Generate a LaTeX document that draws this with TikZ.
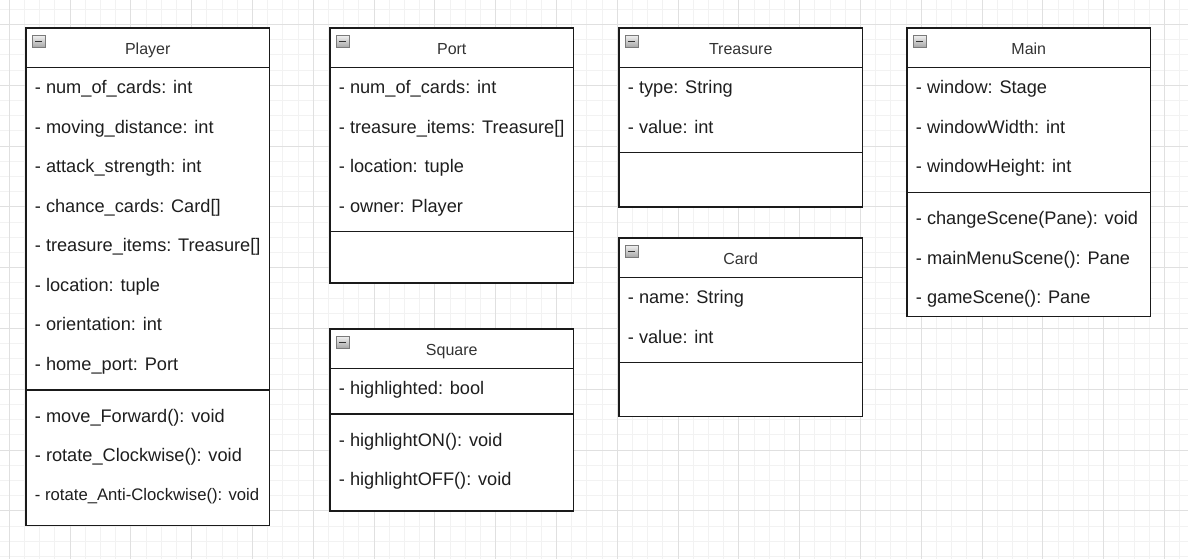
\documentclass[tikz,border=0pt]{standalone}
\usepackage{fontspec}
\setmainfont{Liberation Sans}
\usetikzlibrary{shadings}
\definecolor{gridminor}{HTML}{F2F2F2}
\definecolor{gridmajor}{HTML}{E0E0E0}
\definecolor{boxline}{HTML}{1A1A1A}
\definecolor{txt}{HTML}{1E1E1E}
\definecolor{hdrtxt}{HTML}{333333}
\definecolor{icontop}{HTML}{EDEDED}
\definecolor{iconbot}{HTML}{A6A6A6}
\definecolor{iconedge}{HTML}{7A7A7A}
\tikzset{
  minorgrid/.style={draw=gridminor, line width=1pt},
  majorgrid/.style={draw=gridmajor, line width=1pt},
  classbox/.style={draw=boxline, line width=1.5pt, fill=white, rectangle,
    inner sep=0pt, outer sep=0pt, anchor=north west, minimum width=243.5pt},
  sep/.style={draw=boxline, line width=1.5pt},
  attr/.style={anchor=base west, inner sep=0pt, text=txt, font=\fontsize{18.2}{21}\selectfont},
  attrsmall/.style={attr, font=\fontsize{16.7}{19}\selectfont},
  hdr/.style={anchor=base, inner sep=0pt, text=hdrtxt, font=\fontsize{16}{19}\selectfont},
  iconbox/.style={rectangle, inner sep=0pt, outer sep=0pt, minimum width=12.5pt,
    minimum height=11.5pt, top color=icontop, bottom color=iconbot, draw=iconedge, line width=0.8pt},
  iconminus/.style={draw=hdrtxt, line width=1.6pt}
}
% #1 id, #2 left, #3 top, #4 height, #5 title, #6 divider offset from top
\newcommand\classframe[6]{%
  \node[classbox, minimum height=#4pt] (#1) at (#2,#3) {};
  \draw[sep] ([yshift=-39.5pt]#1.north west) -- ([yshift=-39.5pt]#1.north east);
  \draw[sep] ([yshift=-#6pt]#1.north west) -- ([yshift=-#6pt]#1.north east);
  \node[iconbox] (#1icon) at (#2+12.8,#3+13.6) {};
  \draw[iconminus] ([xshift=2.6pt]#1icon.west) -- ([xshift=-2.6pt]#1icon.east);
  \node[hdr] (#1title) at (#2+121.75,#3+26.5) {#5};
}
\begin{document}
\begin{tikzpicture}[x=1pt,y=-1pt]
\useasboundingbox (0,0) rectangle (1188,559);
\fill[white] (0,0) rectangle (1188,559);
% grid
\foreach \k in {0,...,77} { \draw[minorgrid] ({9.3+15.2*\k},0) -- ({9.3+15.2*\k},559); }
\foreach \k in {0,...,36} { \draw[minorgrid] (0,{9.3+15.2*\k}) -- (1188,{9.3+15.2*\k}); }
\foreach \k in {0,...,19} { \draw[majorgrid] ({9.3+60.8*\k},0) -- ({9.3+60.8*\k},559); }
\foreach \k in {0,...,8} { \draw[majorgrid] (0,{24.5+60.8*\k}) -- (1188,{24.5+60.8*\k}); }

% Player
\classframe{P}{26}{28}{497.5}{Player}{361.8}
\node[attr] (P1) at (34.7,93.85) {- num\_of\_cards: int};
\node[attr] (P2) at (34.7,133.35) {- moving\_distance: int};
\node[attr] (P3) at (34.7,172.85) {- attack\_strength: int};
\node[attr] (P4) at (34.7,212.35) {- chance\_cards: Card[]};
\node[attr] (P5) at (34.7,251.85) {- treasure\_items: Treasure[]};
\node[attr] (P6) at (34.7,291.35) {- location: tuple};
\node[attr] (P7) at (34.7,330.85) {- orientation: int};
\node[attr] (P8) at (34.7,370.35) {- home\_port: Port};
\node[attr] (P9) at (34.7,422.2) {- move\_Forward(): void};
\node[attr] (P10) at (34.7,461.7) {- rotate\_Clockwise(): void};
\node[attrsmall] (P11) at (34.7,500.6) {- rotate\_Anti-Clockwise(): void};

% Port
\classframe{O}{330}{28}{255}{Port}{203.5}
\node[attr] (O1) at (338.7,93.85) {- num\_of\_cards: int};
\node[attr] (O2) at (338.7,133.35) {- treasure\_items: Treasure[]};
\node[attr] (O3) at (338.7,172.85) {- location: tuple};
\node[attr] (O4) at (338.7,212.35) {- owner: Player};

% Square
\classframe{S}{330}{329}{182}{Square}{85}
\node[attr] (S1) at (338.7,394.85) {- highlighted: bool};
\node[attr] (S2) at (338.7,446.45) {- highlightON(): void};
\node[attr] (S3) at (338.7,485.95) {- highlightOFF(): void};

% Treasure
\classframe{T}{619}{28}{179}{Treasure}{124.7}
\node[attr] (T1) at (627.7,93.85) {- type: String};
\node[attr] (T2) at (627.7,133.35) {- value: int};

% Card
\classframe{C}{619}{238}{178.7}{Card}{124.3}
\node[attr] (C1) at (627.7,303.85) {- name: String};
\node[attr] (C2) at (627.7,343.35) {- value: int};

% Main
\classframe{M}{907}{28}{288.5}{Main}{164.3}
\node[attr] (M1) at (915.7,93.85) {- window: Stage};
\node[attr] (M2) at (915.7,133.35) {- windowWidth: int};
\node[attr] (M3) at (915.7,172.85) {- windowHeight: int};
\node[attr] (M4) at (915.7,224.75) {- changeScene(Pane): void};
\node[attr] (M5) at (915.7,264.25) {- mainMenuScene(): Pane};
\node[attr] (M6) at (915.7,303.75) {- gameScene(): Pane};
\end{tikzpicture}
\end{document}
